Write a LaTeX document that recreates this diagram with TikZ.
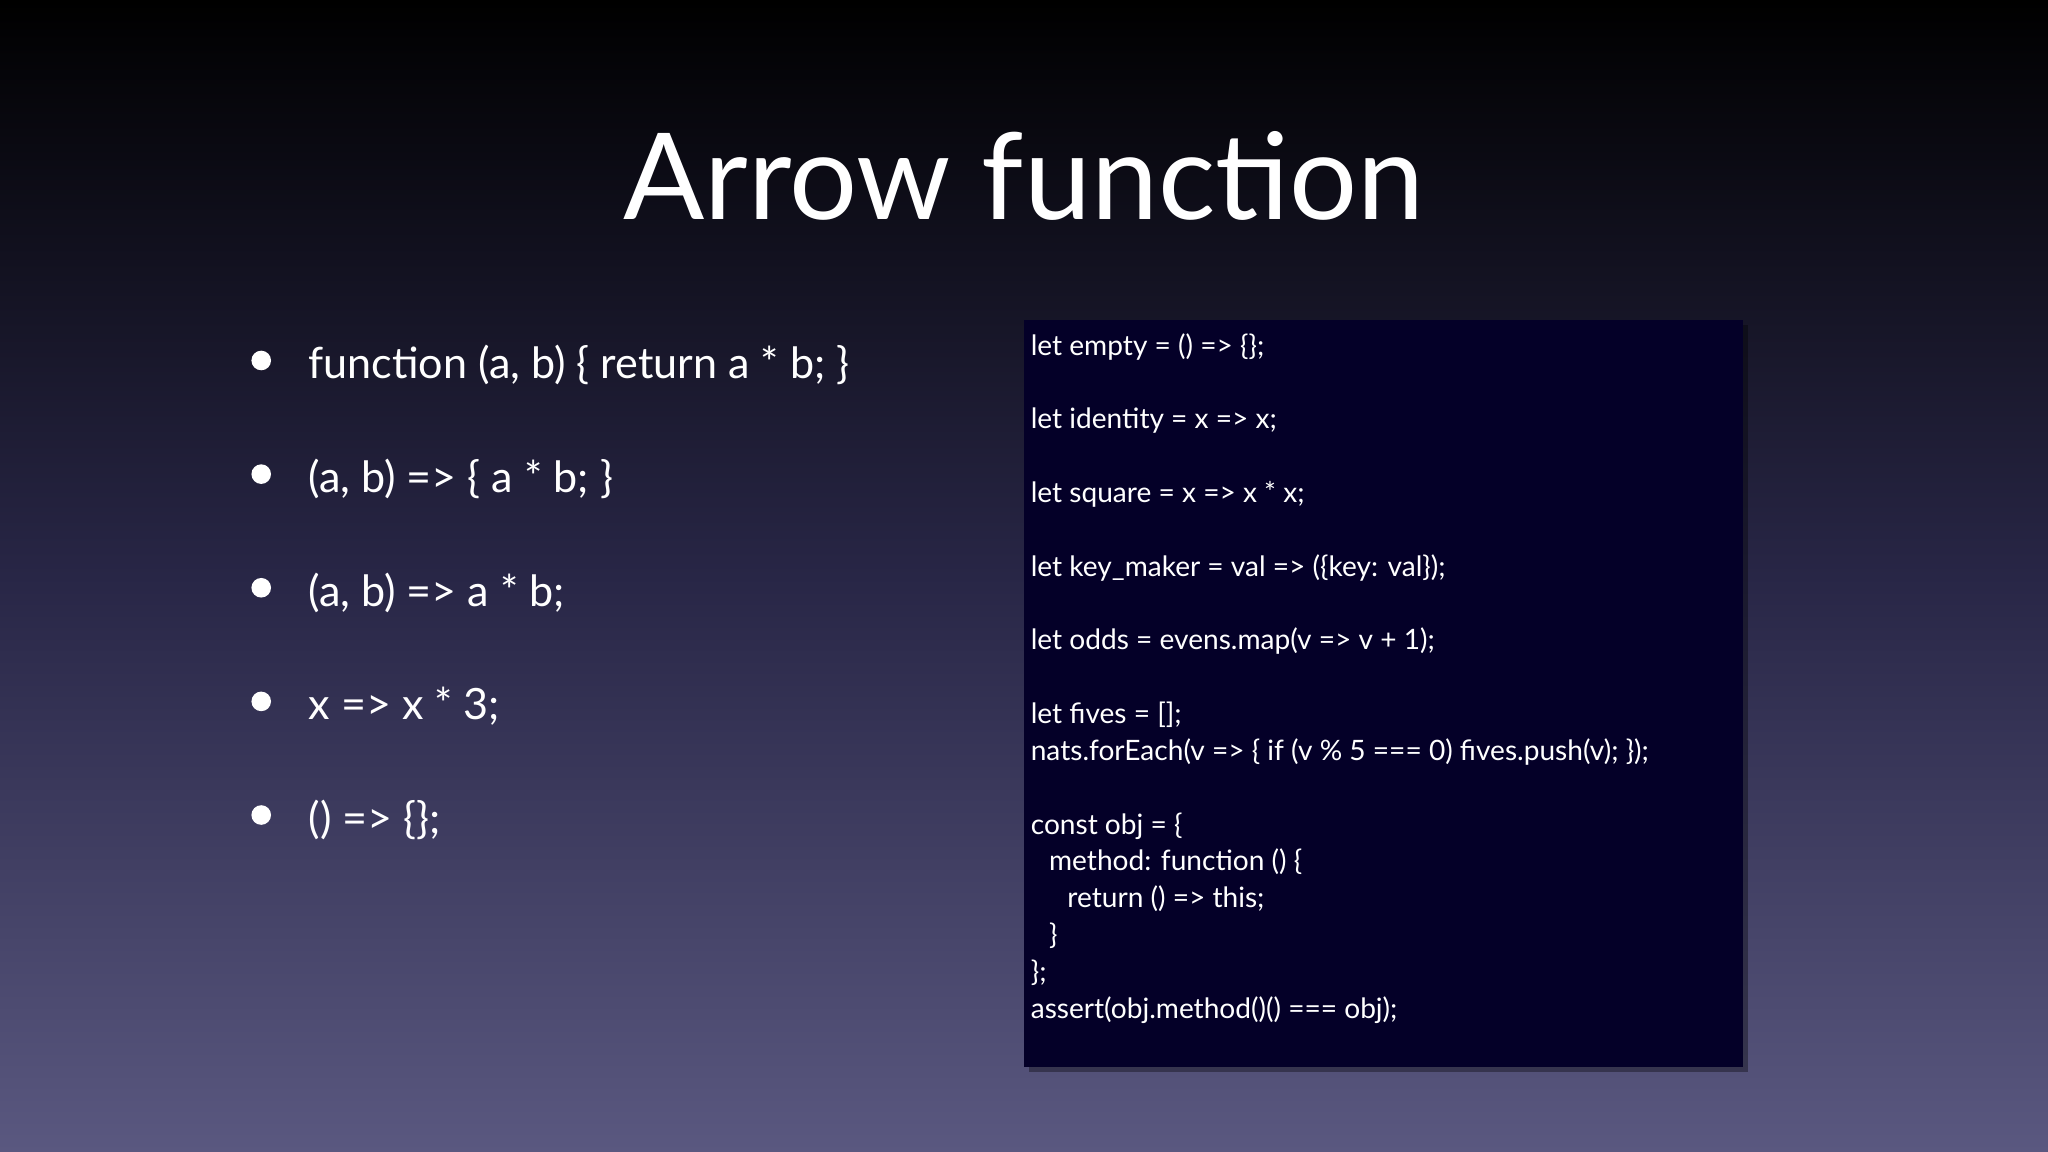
\documentclass[tikz,border=0pt]{standalone}
\usepackage{fontspec}
\setmainfont{Lato}
\definecolor{bgbot}{RGB}{90,88,128}
\definecolor{bgmid}{RGB}{40,38,70}
\definecolor{codebg}{RGB}{4,0,40}
\begin{document}
\begin{tikzpicture}[x=1pt,y=-1pt,
  bullettxt/.style={anchor=base west,text=white,font=\fontsize{33}{36}\selectfont,inner sep=0},
  codetxt/.style={anchor=base west,text=white,font=\fontsize{21.5}{24}\selectfont,inner sep=0}]
\useasboundingbox (0,0) rectangle (1568,882);
\shade[top color=black,bottom color=bgbot,middle color=bgmid] (0,0) rectangle (1568,882);
\node[text=white,font=\fontsize{92}{100}\selectfont,anchor=base,inner sep=0] (title) at (784,168) {Arrow function};
\foreach \i/\t in {0/{function (a, b) \{ return a * b; \}},1/{(a, b) => \{ a * b; \}},2/{(a, b) => a * b;},3/{x => x * 3;},4/{() => \{\};}}{
  \fill[white] (200,{276+87*\i}) circle (7.5);
  \node[bullettxt] (b\i) at (236,{290+87*\i}) {\t};
}
\fill[black,opacity=0.35] (788,249) rectangle (1338,821);
\node[fill=codebg,minimum width=550,minimum height=572,anchor=north west,inner sep=0] (code) at (784,245) {};
\foreach \i/\t in {0/{let empty = () => \{\};},2/{let identity = x => x;},4/{let square = x => x * x;},6/{let key\_maker = val => (\{key: val\});},8/{let odds = evens.map(v => v + 1);},10/{let fives = [];},11/{nats.forEach(v => \{ if (v \% 5 === 0) fives.push(v); \});},13/{const obj = \{},14/{\hspace*{14pt}method: function () \{},15/{\hspace*{28pt}return () => this;},16/{\hspace*{14pt}\}},17/{\};},18/{assert(obj.method()() === obj);}}{
  \node[codetxt] (c\i) at (789,{272+28.2*\i}) {\t};
}
\end{tikzpicture}
\end{document}
